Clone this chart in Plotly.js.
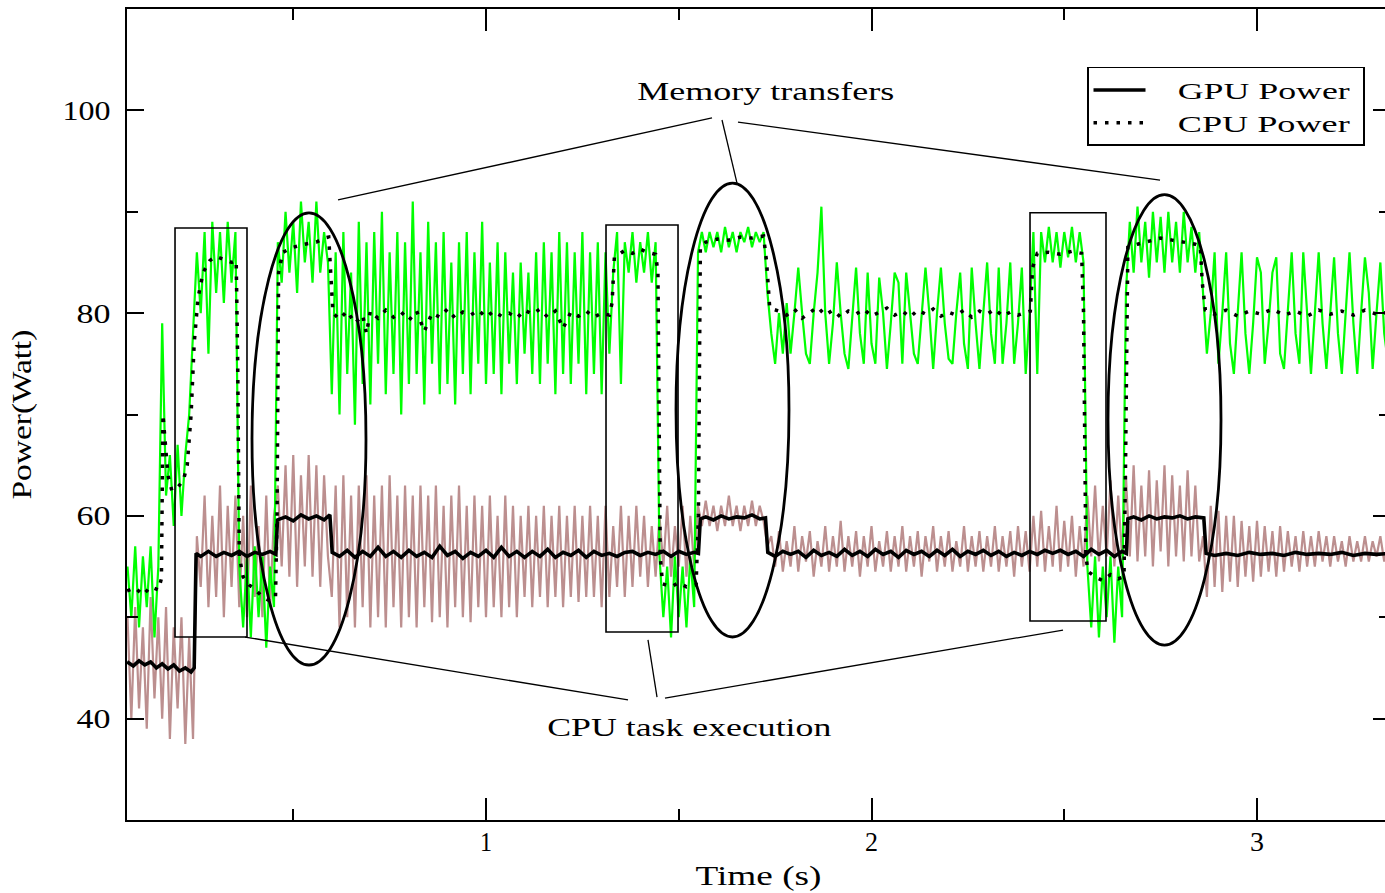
<!DOCTYPE html>
<html>
<head>
<meta charset="utf-8">
<script src="https://cdn.plot.ly/plotly-3.0.1.min.js"></script>
<style>
html,body{margin:0;padding:0;overflow:hidden;background:#fff}
#chart{width:1392px;height:893px}
</style>
</head>
<body>
<div id="chart"></div>
<script>
// ---------------- DATA ----------------
// raw samples, one every SAMPLE_DT seconds starting at SAMPLE_START
const SAMPLE_START = 0.07;
const SAMPLE_DT = 0.01;

// CPU power, raw (green)
const cpuRaw = [
  55, 50, 57, 49, 56, 51, 57, 48, 55, 79,          // 0.07
  62, 66, 59, 67, 60, 66, 70, 78, 86, 80,          // 0.17
  88, 76, 89, 82, 88, 81, 89, 83, 88, 55,          // 0.27
  49, 56, 48, 57, 50, 56, 47, 55, 51, 87,          // 0.37
  83, 90, 84, 89, 82, 91, 85, 89, 83, 91,          // 0.47
  84, 88, 85, 72, 86, 70, 88, 74, 84, 69,          // 0.57
  89, 73, 87, 71, 88, 75, 90, 72, 86, 74,          // 0.67
  88, 70, 87, 73, 91, 74, 86, 71, 89, 75,          // 0.77
  87, 72, 88, 73, 85, 71, 87, 74, 88, 72,          // 0.87
  86, 75, 89, 73, 85, 74, 87, 72, 86, 75,          // 0.97
  84, 73, 85, 76, 84, 74, 86, 73, 87, 75,          // 1.07
  86, 72, 88, 74, 87, 73, 86, 75, 88, 72,          // 1.17
  86, 74, 87, 72, 86, 76, 84, 88, 73, 87,          // 1.27
  84, 88, 83, 87, 84, 88, 83, 87, 56, 50,          // 1.37
  55, 48, 56, 50, 55, 49, 56, 51, 86, 88,          // 1.47
  86, 88, 86.5, 88, 86, 88.5, 86.5, 88, 86, 88,    // 1.57
  87, 88.5, 86.5, 88, 87, 88, 82, 78, 75, 80,      // 1.67
  76, 81, 76, 80, 84.5, 80, 76, 75, 80, 84,        // 1.77
  90.5, 80, 75, 79, 85, 80, 76, 74.5, 80, 84.5,    // 1.87
  78, 75, 84, 77, 75, 83.5, 80, 74.5, 79, 84,      // 1.97
  83, 75, 84, 80, 76, 75, 80, 84.5, 80, 74.5,      // 2.07
  80, 84.5, 79, 75.5, 75, 80, 84, 77, 74.5, 84.5,  // 2.17
  79, 74.5, 80, 85, 78, 75, 84.5, 75, 79, 85,      // 2.27
  75, 79, 84.5, 74, 80, 88, 74, 88, 85, 88.5,      // 2.37
  85, 88, 84.5, 88, 85.5, 88.5, 85, 88, 85, 55,    // 2.47
  49, 56, 48, 55, 50, 56, 47.5, 55, 50, 82,        // 2.57
  89, 84, 90.5, 85, 89, 83.5, 90, 85, 89.5, 84,    // 2.67
  90, 85, 89, 84, 90, 85, 88.5, 84, 88, 82,        // 2.77
  76, 80, 86, 75, 80, 86, 77, 74, 80, 86,          // 2.87
  78, 74, 79, 85.5, 84, 75, 79, 84, 85.5, 76,      // 2.97
  74.5, 80, 86, 78, 75, 86, 80, 74, 80, 86,        // 3.07
  79, 74.5, 80, 85.5, 78, 74, 80, 86, 79, 74,      // 3.17
  80, 85.5, 82, 74.5, 80, 85, 78, 75               // 3.27
];

// GPU power, raw (brown)
const gpuRaw = [
  50, 40, 51, 41, 49, 39, 52, 42, 50, 40,          // 0.07
  51, 38, 49, 41, 50, 37.5, 48, 38, 58, 53,        // 0.17
  62, 51, 60, 52, 63, 50, 61, 53, 62, 51,          // 0.27
  60, 50, 63, 52, 59, 50, 62, 51, 60, 63,          // 0.37
  55, 65, 54, 66, 53, 64, 55, 66, 54, 65,          // 0.47
  53, 64, 56, 52, 63, 49, 64, 50, 62, 49,          // 0.57
  63, 51, 64, 49, 62, 50, 63, 49, 64, 51,          // 0.67
  62, 49, 63, 50, 62, 49, 63, 51, 62, 49.5,        // 0.77
  63, 50, 61, 49, 62, 51, 63, 50, 61, 49.5,        // 0.87
  62, 51, 61, 50, 62, 51, 60, 50, 62, 51,          // 0.97
  61, 50, 60, 52, 61, 51, 60, 52, 61, 51,          // 1.07
  60, 52, 61, 51, 60, 52, 61, 51.5, 60, 52,        // 1.17
  61, 52, 60, 51, 61, 52, 59, 53, 61, 52,          // 1.27
  60, 53, 61, 54, 60, 53, 59, 54, 60, 55,          // 1.37
  61, 54, 59, 55, 61, 54, 60, 55, 61, 59,          // 1.47
  61.5, 59, 61, 58.5, 61, 59, 62, 59, 61, 58.5,    // 1.57
  61, 59, 61.5, 59, 61, 59.5, 57, 58, 55, 58.5,    // 1.67
  54.5, 57.5, 55, 59, 54.5, 58, 55.5, 58.5, 54, 57.5, // 1.77
  55, 59, 54.5, 58, 55, 59.5, 54.5, 58, 55, 58.5,  // 1.87
  54, 58, 55, 59, 54.5, 57.5, 55, 58.5, 54.5, 58,  // 1.97
  55, 59, 54.5, 58, 55, 58.5, 54, 58, 55.5, 59,    // 2.07
  54.5, 58, 55, 58.5, 54.5, 57.5, 55, 59, 54.5, 58, // 2.17
  55, 58.5, 54.5, 58, 55, 59, 54.5, 58, 55, 58.5,  // 2.27
  54, 59, 55, 58.5, 54.5, 60, 55, 60.5, 54.5, 59,  // 2.37
  55, 61, 54.5, 59.5, 55, 60, 54, 59, 55, 62,      // 2.47
  56, 63, 55.5, 61, 56, 63.5, 55, 62, 56, 64,      // 2.57
  56, 65, 55.5, 63, 56, 64.5, 55, 63.5, 56.5, 65,  // 2.67
  55, 64, 56, 63, 55.5, 64.5, 56, 63, 55.5, 58,    // 2.77
  52, 61, 53, 60.5, 52.5, 60, 53.5, 60, 53, 59.5,  // 2.87
  54, 59, 53.5, 59.5, 54, 59, 54.5, 58.5, 54, 59,  // 2.97
  54.5, 58.5, 55, 58, 54.5, 58.5, 55, 58, 55, 58.5, // 3.07
  55.5, 58, 55, 58, 55.5, 57.5, 55, 58, 55.5, 57.5, // 3.17
  55.5, 58, 55.5, 57.5, 56, 58, 55.5, 57.5         // 3.27
];

// GPU power, smoothed (black solid): [time s, watt]
const gpuPower = [
  [0.069,45.6],[0.085,45.2],[0.10,45.7],[0.115,45.3],[0.13,45.6],[0.145,45.0],[0.16,45.4],
  [0.175,44.9],[0.19,45.3],[0.205,44.7],[0.22,45.0],[0.235,44.6],[0.243,45.0],
  [0.248,56.3],[0.26,56.0],[0.28,56.5],[0.30,56.0],[0.32,56.4],[0.34,56.1],[0.36,56.5],
  [0.38,56.0],[0.40,56.4],[0.42,56.2],[0.44,56.5],[0.455,56.2],
  [0.459,59.6],[0.48,59.9],[0.50,59.5],[0.52,60.1],[0.54,59.7],[0.56,60.0],[0.58,59.6],[0.595,60.1],
  [0.601,56.4],[0.62,56.0],[0.64,56.6],[0.66,55.9],[0.68,56.5],[0.70,56.0],[0.72,56.9],[0.74,56.0],
  [0.76,56.5],[0.78,55.9],[0.80,56.6],[0.82,56.0],[0.84,56.4],[0.86,55.9],[0.88,57.0],[0.90,56.1],
  [0.92,56.5],[0.94,55.8],[0.96,56.4],[0.98,56.0],[1.00,56.6],[1.02,55.9],[1.04,56.9],[1.06,56.0],
  [1.08,56.5],[1.10,55.9],[1.12,56.5],[1.14,56.0],[1.16,56.7],[1.18,55.9],[1.20,56.4],[1.22,56.1],
  [1.24,56.6],[1.26,55.9],[1.28,56.5],[1.30,56.1],[1.32,56.3],[1.34,56.0],[1.36,56.4],[1.38,56.5],
  [1.40,56.1],[1.42,56.4],[1.44,56.2],[1.46,56.5],[1.48,56.0],[1.50,56.5],[1.52,56.2],[1.54,56.4],[1.551,56.3],
  [1.556,59.7],[1.57,59.9],[1.59,59.6],[1.61,60.0],[1.63,59.7],[1.65,59.9],[1.67,59.8],[1.69,60.1],[1.71,59.7],[1.725,59.8],
  [1.731,56.4],[1.75,56.0],[1.77,56.5],[1.79,56.2],[1.81,56.5],[1.83,55.9],[1.85,56.6],[1.87,56.1],
  [1.89,56.4],[1.91,56.0],[1.93,56.7],[1.95,56.1],[1.97,56.5],[1.99,56.0],[2.01,56.7],[2.03,56.2],
  [2.05,56.5],[2.07,55.9],[2.09,56.6],[2.11,56.2],[2.13,56.5],[2.15,56.0],[2.17,56.6],[2.19,56.1],
  [2.21,56.7],[2.23,56.0],[2.25,56.5],[2.27,56.2],[2.29,56.6],[2.31,56.1],[2.33,56.5],[2.35,56.0],
  [2.37,56.4],[2.39,56.1],[2.41,56.5],[2.43,56.2],[2.45,56.6],[2.47,56.3],[2.49,56.6],[2.51,56.2],
  [2.53,56.5],[2.55,56.0],[2.57,56.7],[2.59,56.2],[2.61,56.6],[2.63,56.0],[2.65,56.5],[2.661,56.3],
  [2.665,59.7],[2.68,59.9],[2.70,59.6],[2.72,60.0],[2.74,59.7],[2.76,59.9],[2.78,59.8],[2.80,60.0],
  [2.82,59.7],[2.84,59.9],[2.862,59.8],
  [2.868,56.3],[2.89,56.1],[2.92,56.3],[2.95,56.1],[2.98,56.4],[3.01,56.2],[3.04,56.3],[3.07,56.1],
  [3.10,56.4],[3.13,56.2],[3.16,56.3],[3.19,56.2],[3.22,56.4],[3.25,56.1],[3.28,56.3],[3.31,56.2],[3.345,56.3]
];

// CPU power, smoothed (black dotted): [time s, watt]
const cpuPower = [
  [0.069,52.6],[0.09,52.9],[0.11,52.2],[0.13,53.0],[0.15,52.7],[0.158,53.8],[0.162,70.0],[0.168,67],
  [0.175,64],[0.185,62.5],[0.20,62.8],[0.215,63.5],[0.225,65],[0.235,70],[0.243,77],[0.253,81.5],
  [0.266,84],[0.284,85.2],[0.30,85.6],[0.32,85.3],[0.34,85.0],[0.352,85.2],[0.356,75],[0.360,56],
  [0.37,54],[0.385,53.2],[0.40,52.8],[0.42,52],[0.44,51.6],[0.454,52],[0.458,60],[0.462,84],
  [0.473,86],[0.50,86.5],[0.53,86.8],[0.56,87],[0.58,87.4],[0.592,87.5],[0.597,84],[0.603,80],
  [0.62,79.4],[0.64,80.2],[0.66,79.0],[0.68,79.8],[0.69,78.0],[0.70,80.2],[0.72,79.5],[0.74,80.3],
  [0.76,79.6],[0.78,80.1],[0.80,79.3],[0.82,80.2],[0.84,78.2],[0.86,80.0],[0.88,79.6],[0.90,80.4],
  [0.92,79.5],[0.94,80.1],[0.96,79.8],[0.98,80.3],[1.00,79.6],[1.02,80.2],[1.04,79.7],[1.06,80.0],
  [1.08,79.5],[1.10,80.3],[1.12,79.9],[1.14,80.4],[1.16,79.6],[1.18,80.2],[1.20,78.5],[1.22,80.1],
  [1.24,79.7],[1.26,80.2],[1.28,79.6],[1.30,80.0],[1.32,79.8],
  [1.327,81],[1.333,85.5],[1.345,85.8],[1.36,86.2],[1.38,85.9],[1.40,86.3],[1.42,86.0],[1.44,85.8],
  [1.446,84],[1.452,56],[1.458,53.3],[1.48,53.0],[1.50,53.4],[1.52,53.0],[1.545,53.2],[1.551,60],
  [1.556,86.5],[1.57,87.0],[1.60,87.3],[1.63,87.2],[1.66,87.5],[1.69,87.4],[1.72,87.6],[1.728,85],[1.736,80.5],
  [1.76,80.2],[1.78,79.8],[1.80,80.4],[1.82,79.5],[1.84,80.1],[1.86,80.6],[1.88,79.8],[1.90,80.3],
  [1.92,79.6],[1.94,80.2],[1.96,79.9],[1.98,80.4],[2.00,79.7],[2.02,80.1],[2.04,80.5],[2.06,79.8],
  [2.08,80.2],[2.10,79.6],[2.12,80.3],[2.14,79.9],[2.16,80.4],[2.18,79.7],[2.20,80.1],[2.22,79.8],
  [2.24,80.3],[2.26,79.6],[2.28,80.2],[2.30,79.9],[2.32,80.4],[2.34,79.7],[2.36,80.1],[2.38,79.8],
  [2.40,80.0],[2.412,80.2],
  [2.418,84.5],[2.43,85.9],[2.46,86.0],[2.49,85.8],[2.52,86.1],[2.545,85.9],[2.55,80],[2.556,56],
  [2.562,54.5],[2.58,54.0],[2.60,53.6],[2.62,54.2],[2.64,53.8],[2.655,54],[2.659,65],[2.665,86.5],
  [2.69,86.8],[2.72,87.1],[2.75,87.4],[2.78,87.2],[2.81,87.0],[2.84,86.8],[2.853,86.6],[2.858,83],[2.866,80.3],
  [2.89,79.9],[2.92,80.3],[2.95,79.7],[2.98,80.2],[3.01,79.9],[3.04,80.4],[3.07,79.8],[3.10,80.2],
  [3.13,79.7],[3.16,80.3],[3.19,79.9],[3.22,80.2],[3.25,79.8],[3.28,80.3],[3.31,79.9],[3.345,80.1]
];

const xTickVals = [1, 2, 3];
const yTickVals = [40, 60, 80, 100];
const legendNames = ['GPU Power', 'CPU Power'];
const noteMemory = 'Memory transfers';
const noteCpu = 'CPU task execution';

// ---------------- CHART ----------------
const sampleTimes = cpuRaw.map((_, i) => +(SAMPLE_START + i * SAMPLE_DT).toFixed(3));
const FONT = 'Liberation Serif, Times New Roman, serif';

const traces = [
  {x: sampleTimes, y: gpuRaw, type: 'scatter', mode: 'lines', showlegend: false,
   line: {color: '#bc8f8f', width: 2.2}, hoverinfo: 'skip'},
  {x: sampleTimes, y: cpuRaw, type: 'scatter', mode: 'lines', showlegend: false,
   line: {color: '#00ff00', width: 2.2}, hoverinfo: 'skip'},
  {x: gpuPower.map(p => p[0]), y: gpuPower.map(p => p[1]), type: 'scatter', mode: 'lines',
   name: legendNames[0], line: {color: '#000', width: 3.6}},
  {x: cpuPower.map(p => p[0]), y: cpuPower.map(p => p[1]), type: 'scatter', mode: 'lines',
   name: legendNames[1], line: {color: '#000', width: 3.5, dash: '3.5px,8px'}}
];

const lineStyle = {color: '#000', width: 1.3};
const shapes = [
  // CPU task execution boxes
  {type: 'rect', x0: 0.1933, x1: 0.3800, y0: 48.05, y1: 88.40, line: {color: '#000', width: 1.6}},
  {type: 'rect', x0: 1.3113, x1: 1.4981, y0: 48.55, y1: 88.69, line: {color: '#000', width: 1.6}},
  {type: 'rect', x0: 2.4112, x1: 2.6083, y0: 49.63, y1: 89.90, line: {color: '#000', width: 1.6}},
  // memory transfer ellipses
  {type: 'circle', x0: 0.3930, x1: 0.6887, y0: 45.29, y1: 89.88, line: {color: '#000', width: 2.8}},
  {type: 'circle', x0: 1.4929, x1: 1.7860, y0: 48.05, y1: 92.83, line: {color: '#000', width: 2.8}},
  {type: 'circle', x0: 2.6135, x1: 2.9066, y0: 47.26, y1: 91.68, line: {color: '#000', width: 2.8}},
  // connectors from "Memory transfers"
  {type: 'line', x0: 1.5863, y0: 99.25, x1: 0.6161, y1: 91.16, line: lineStyle},
  {type: 'line', x0: 1.6122, y0: 99.05, x1: 1.6511, y1: 92.83, line: lineStyle},
  {type: 'line', x0: 1.6537, y0: 98.85, x1: 2.7484, y1: 93.13, line: lineStyle},
  // connectors from "CPU task execution"
  {type: 'line', x0: 1.3684, y0: 41.84, x1: 0.3748, y1: 48.05, line: lineStyle},
  {type: 'line', x0: 1.4436, y0: 42.13, x1: 1.4202, y1: 47.76, line: lineStyle},
  {type: 'line', x0: 1.4643, y0: 42.03, x1: 2.4968, y1: 48.74, line: lineStyle}
];

const annotations = [
  {x: 1.7263, y: 101.91, xref: 'x', yref: 'y', text: noteMemory, showarrow: false,
   xanchor: 'center', yanchor: 'middle', font: {family: FONT, size: 26, color: '#000'}},
  {x: 1.5266, y: 39.17, xref: 'x', yref: 'y', text: noteCpu, showarrow: false,
   xanchor: 'center', yanchor: 'middle', font: {family: FONT, size: 26, color: '#000'}}
];

const layout = {
  width: 1392, height: 893,
  margin: {l: 127, r: 2, t: 9, b: 73, pad: 0},
  paper_bgcolor: '#fff', plot_bgcolor: '#fff',
  font: {family: FONT, size: 26, color: '#000'},
  showlegend: true,
  legend: {x: 0.7601, y: 0.9285, xanchor: 'left', yanchor: 'top',
           bgcolor: '#fff', bordercolor: '#000', borderwidth: 1.5,
           font: {family: FONT, size: 23, color: '#000'}, itemwidth: 52, tracegroupgap: 0},
  xaxis: {
    range: [0.06874, 3.3450], showgrid: false, zeroline: false,
    showline: true, linecolor: '#000', linewidth: 2, mirror: 'ticks',
    ticks: 'inside', ticklen: 22, tickwidth: 2, tickcolor: '#000',
    tickmode: 'array', tickvals: xTickVals, ticktext: xTickVals.map(String),
    tickfont: {family: FONT, size: 27, color: '#000'}, ticklabelstandoff: -3,
    minor: {dtick: 0.5, tick0: 0, ticks: 'inside', ticklen: 11, tickwidth: 2, tickcolor: '#000', showgrid: false},
    title: {text: 'Time (s)', font: {family: FONT, size: 27, color: '#000'}, standoff: 10}
  },
  yaxis: {
    range: [30, 110], showgrid: false, zeroline: false,
    showline: true, linecolor: '#000', linewidth: 2, mirror: 'ticks',
    ticks: 'inside', ticklen: 17, tickwidth: 2, tickcolor: '#000',
    tickmode: 'array', tickvals: yTickVals, ticktext: yTickVals.map(String),
    tickfont: {family: FONT, size: 27, color: '#000'}, ticklabelstandoff: 9,
    minor: {dtick: 10, tick0: 0, ticks: 'inside', ticklen: 11, tickwidth: 2, tickcolor: '#000', showgrid: false},
    title: {text: 'Power(Watt)', font: {family: FONT, size: 27, color: '#000'}, standoff: 31}
  },
  shapes: shapes,
  annotations: annotations,
  hovermode: false
};

// widths (px) the stretched serif lettering occupies in the original figure
const textWidths = {
  'GPU Power': 172, 'CPU Power': 172, 'Memory transfers': 257, 'CPU task execution': 284,
  'Time (s)': 126, 'Power(Watt)': 170, '100': 48, '80': 34, '60': 34, '40': 34,
  '1': 12, '2': 13, '3': 14
};

Plotly.newPlot('chart', traces, layout, {displayModeBar: false, staticPlot: true}).then(gd => {
  gd.querySelectorAll('text').forEach(el => {
    const w = textWidths[el.textContent.trim()];
    if (w) {
      el.setAttribute('textLength', w);
      el.setAttribute('lengthAdjust', 'spacingAndGlyphs');
    }
  });
  const legend = gd.querySelector('.legend');
  if (legend) {
    legend.querySelectorAll('[clip-path]').forEach(e => e.removeAttribute('clip-path'));
    const bg = legend.querySelector('rect.bg');
    if (bg) bg.setAttribute('width', 276);
    const bgBox = bg ? bg.getBoundingClientRect() : null;
    legend.querySelectorAll('text.legendtext').forEach(t => {
      if (!bgBox) return;
      const r = t.getBoundingClientRect();
      const shift = (bgBox.left + 90) - r.left;
      t.setAttribute('x', parseFloat(t.getAttribute('x') || 0) + shift);
    });
  }
});
</script>
</body>
</html>
